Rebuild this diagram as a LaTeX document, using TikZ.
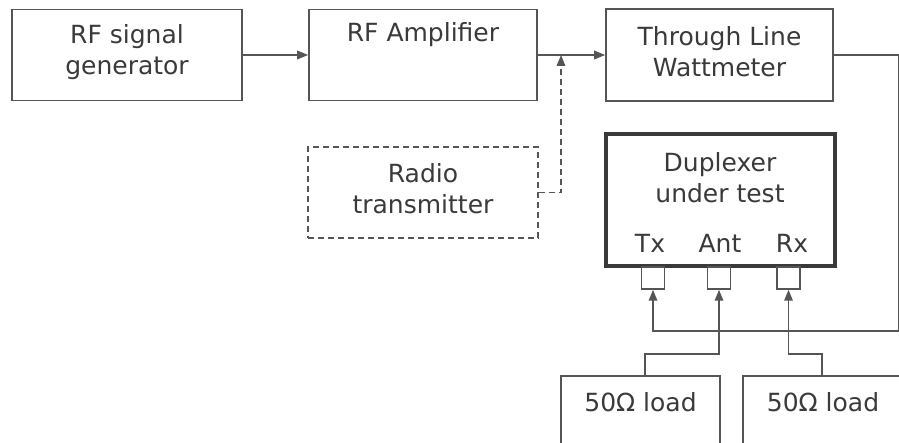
\documentclass[tikz,border=0pt]{standalone}
\usepackage{fontspec}
\setmainfont{DejaVu Sans}
\usetikzlibrary{arrows.meta,calc}
\definecolor{linecol}{HTML}{555555}
\definecolor{txtcol}{HTML}{3A3A3A}
\tikzset{
  blk/.style={draw=linecol, line width=1.6pt, fill=white, inner sep=0pt},
  dashblk/.style={blk, dash pattern=on 6pt off 4pt, line width=1.5pt},
  portbox/.style={draw=linecol, line width=1.5pt, fill=white, minimum width=23pt, minimum height=22pt, inner sep=0pt},
  lbl/.style={text=txtcol, font=\fontsize{25}{31}\selectfont, inner sep=0pt, align=center},
  conn/.style={draw=linecol, line width=1.7pt},
  arr/.style={conn, -{Triangle[length=11pt,width=8.5pt]}},
  darr/.style={arr, dash pattern=on 6pt off 4pt}
}
\begin{document}
\begin{tikzpicture}[x=1pt,y=-1pt]
\useasboundingbox (0,0) rectangle (899,443);
\clip (0,0) rectangle (899,443);
\node[blk, minimum width=230pt, minimum height=91pt] (gen) at (127,55) {};
\node[blk, minimum width=228pt, minimum height=91pt] (amp) at (423,55) {};
\node[blk, minimum width=227pt, minimum height=92pt] (watt) at (719.5,55) {};
\node[dashblk, minimum width=230pt, minimum height=91pt] (radio) at (423,192.5) {};
\node[draw=txtcol, line width=3.4pt, fill=white, minimum width=229pt, minimum height=132pt] (dup) at (720.5,200) {};
\node[portbox] (tx) at (653,278) {};
\node[portbox] (ant) at (719,278) {};
\node[portbox] (rx) at (788.5,278) {};
\node[blk, minimum width=159pt, minimum height=91pt] (load1) at (640.5,421.5) {};
\node[blk, minimum width=160pt, minimum height=91pt] (load2) at (823,421.5) {};
\node[lbl] (gent) at (127,52) {RF signal\\generator};
\node[lbl] (ampt) at (423,52) {RF Amplifier\\\strut};
\node[lbl] (wattt) at (719.5,52) {Through Line\\Wattmeter};
\node[lbl] (radiot) at (423,188.5) {Radio\\transmitter};
\node[lbl] (dupt) at (720,178) {Duplexer\\under test};
\node[lbl] (txl) at (650,243) {Tx};
\node[lbl] (antl) at (720,243) {Ant};
\node[lbl] (rxl) at (792,243) {Rx};
\node[lbl] (load1t) at (640.5,422.5) {50Ω load\\\strut};
\node[lbl] (load2t) at (823,422.5) {50Ω load\\\strut};
\coordinate (j1) at (561,55);
\coordinate (c1) at (899,55);
\coordinate (c2) at (899,331);
\coordinate (l1) at (645,376);
\coordinate (a1) at (645,354);
\coordinate (l2) at (822,376);
\coordinate (a2) at (822,354);
\draw[arr] (gen.east) -- (amp.west);
\draw[arr] (amp.east) -- (watt.west);
\draw[darr] (radio.east) -| (j1);
\draw[arr] (watt.east) -- (c1) -- (c2) -| (tx.south);
\draw[arr] (l1) -- (a1) -| (ant.south);
\draw[arr] (l2) -- (a2) -| (rx.south);
\end{tikzpicture}
\end{document}
